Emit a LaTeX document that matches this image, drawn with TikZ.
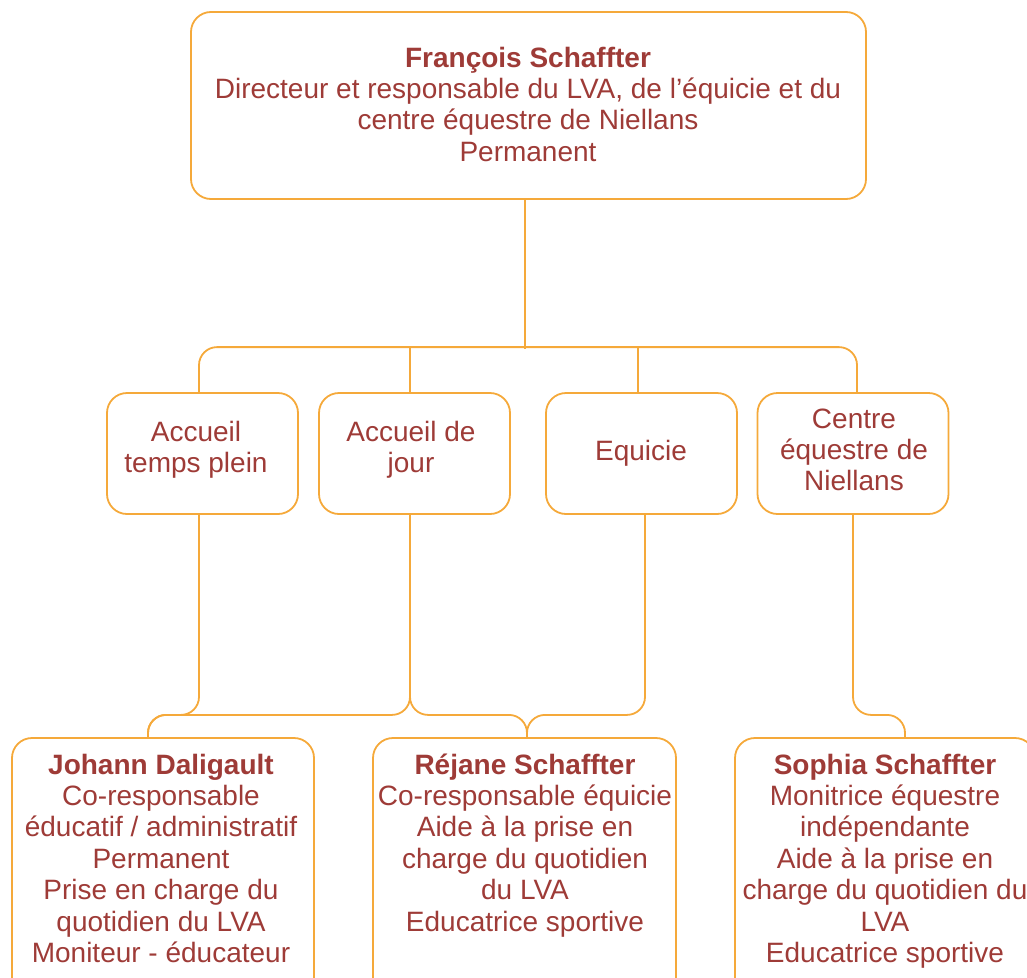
\documentclass[tikz,border=0pt]{standalone}
\usepackage{fontspec}
\setmainfont{Liberation Sans}
\definecolor{txt}{HTML}{9E3B37}
\definecolor{org}{HTML}{F5A93A}
\begin{document}
\begin{tikzpicture}[x=1pt,y=-1pt,
  box/.style={draw=org, line width=1.8pt, rounded corners=20pt, inner sep=0pt},
  t/.style={text=txt, font=\fontsize{28}{31.4}\selectfont, align=center, inner sep=0pt, anchor=north},
  con/.style={draw=org, line width=1.8pt, rounded corners=18pt}]
\useasboundingbox (0,0) rectangle (1027,977);
\clip (0,0) rectangle (1027,977);

% top box
\node[box, minimum width=675pt, minimum height=187pt] (top) at (528.5,105.5) {};
\node[t] (toptxt) at (528,45) {{\bfseries\strut François Schaffter}\\Directeur et responsable du LVA, de l’équicie et du\\centre équestre de Niellans\\Permanent};

% middle boxes
\node[box, minimum width=191pt, minimum height=121pt] (m1) at (202.5,453.5) {};
\node[box, minimum width=191pt, minimum height=121pt] (m2) at (414.5,453.5) {};
\node[box, minimum width=191pt, minimum height=121pt] (m3) at (641.5,453.5) {};
\node[box, minimum width=191pt, minimum height=121pt] (m4) at (853,453.5) {};
\node[t] (m1t) at (196,419) {\strut Accueil\\temps plein};
\node[t] (m2t) at (411,419) {\strut Accueil de\\jour};
\node[t] (m3t) at (641,438) {\strut Equicie};
\node[t] (m4t) at (854,406) {\strut Centre\\équestre de\\Niellans};

% bottom boxes
\node[box, minimum width=302pt, minimum height=280pt] (b1) at (163,878) {};
\node[box, minimum width=303pt, minimum height=280pt] (b2) at (524.5,878) {};
\node[box, minimum width=300pt, minimum height=280pt] (b3) at (885,878) {};
\node[t] (b1t) at (161,752) {{\bfseries\strut Johann Daligault}\\Co-responsable\\éducatif / administratif\\Permanent\\Prise en charge du\\quotidien du LVA\\Moniteur - éducateur};
\node[t] (b2t) at (525,752) {{\bfseries\strut Réjane Schaffter}\\Co-responsable équicie\\Aide à la prise en\\charge du quotidien\\du LVA\\Educatrice sportive};
\node[t] (b3t) at (885,752) {{\bfseries\strut Sophia Schaffter}\\Monitrice équestre\\indépendante\\Aide à la prise en\\charge du quotidien du\\LVA\\Educatrice sportive};

% connectors top -> middle
\draw[con] ([xshift=-3.5pt]top.south) -- ++(0,149) coordinate (bus);
\draw[con] ([xshift=-3.5pt]m1.north) -- ++(0,-45) -| ([xshift=4pt]m4.north);
\draw[con] ([xshift=-4.5pt]m2.north) -- ++(0,-45);
\draw[con] ([xshift=-3.5pt]m3.north) -- ++(0,-45);

% connectors middle -> bottom
\coordinate (j) at ([xshift=-15pt]b1.north);
\coordinate (r) at ([xshift=2.5pt]b2.north);
\coordinate (s) at ([xshift=20pt]b3.north);
\draw[con] ([xshift=-3.5pt]m1.south) -- ++(0,200) -| (j);
\draw[con] ([xshift=-4.5pt]m2.south) -- ++(0,200) -| (j);
\draw[con] ([xshift=-4.5pt]m2.south) -- ++(0,200) -| (r);
\draw[con] ([xshift=3.5pt]m3.south) -- ++(0,200) -| (r);
\draw[con] (m4.south) -- ++(0,200) -| (s);
\end{tikzpicture}
\end{document}
